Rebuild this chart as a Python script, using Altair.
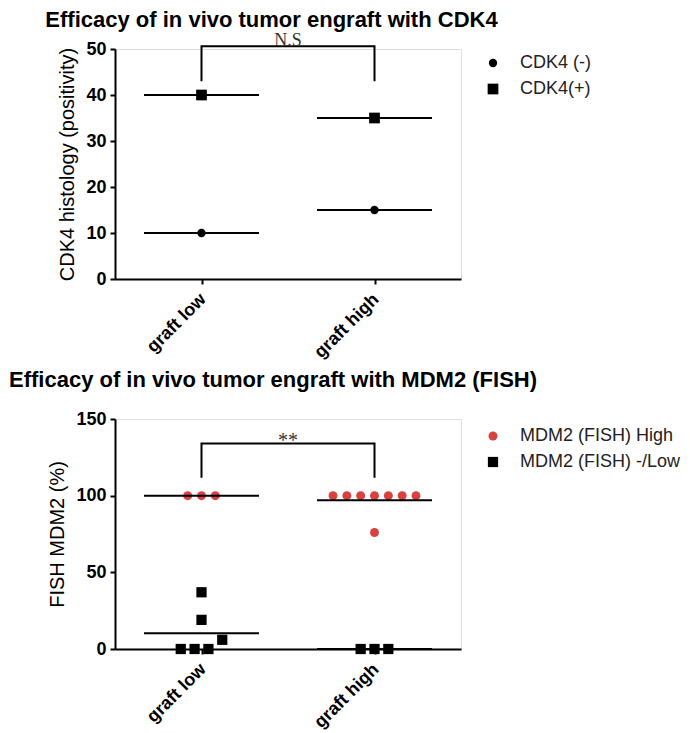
import altair as alt
import pandas as pd

groups = ["graft low", "graft high"]

# ---- Top panel: CDK4 histology ----
cdk4_series_names = ["CDK4 (-)", "CDK4(+)"]
cdk4_group = ["graft low", "graft low", "graft high", "graft high"]
cdk4_series = ["CDK4 (-)", "CDK4(+)", "CDK4 (-)", "CDK4(+)"]
cdk4_value = [10, 40, 15, 35]

cdk4_bracket_group = ["graft low", "graft low", "graft high", "graft high"]
cdk4_bracket_value = [43, 50.6, 50.6, 43]
cdk4_sig_label = ["N.S"]
cdk4_sig_value = [50.6]

# ---- Bottom panel: MDM2 FISH ----
mdm2_series_names = ["MDM2 (FISH) High", "MDM2 (FISH) -/Low"]
mdm2_group = (["graft low"] * 3 + ["graft high"] * 8 +
              ["graft low"] * 6 + ["graft high"] * 3)
mdm2_series = ["MDM2 (FISH) High"] * 11 + ["MDM2 (FISH) -/Low"] * 9
mdm2_value = [100, 100, 100,
              100, 100, 100, 100, 100, 100, 100, 76,
              0, 0, 0, 6, 19, 37,
              0, 0, 0]
mdm2_jitter_rank = [-1, 0, 1,
                    -3, -2, -1, 0, 1, 2, 3, 0,
                    -1.5, -0.5, 0.5, 1.5, 0, 0,
                    -1, 0, 1]

mdm2_bracket_group = ["graft low", "graft low", "graft high", "graft high"]
mdm2_bracket_value = [111.7, 134, 134, 111.7]
mdm2_sig_label = ["**"]
mdm2_sig_value = [131.8]

W, H = 346, 230
FONT = "Liberation Sans"


def xenc():
    return alt.X(
        "group:N",
        scale=alt.Scale(type="point", domain=groups, padding=0.5),
        axis=alt.Axis(
            title=None, labelAngle=-45, labelFontSize=18, labelFontWeight="bold",
            labelColor="black", labelFont=FONT, domainColor="black", domainWidth=2,
            tickColor="black", tickWidth=2, tickSize=5, labelPadding=6, labelOffset=-5,
        ),
    )


def yenc(field, domain, values, title, agg=None):
    f = f"{agg}({field}):Q" if agg else f"{field}:Q"
    return alt.Y(
        f,
        scale=alt.Scale(domain=domain, nice=False, zero=True),
        axis=alt.Axis(
            values=values, title=title, titleFontSize=20, titleFontWeight="normal",
            titleColor="black", titleFont=FONT, titlePadding=8,
            labelFontSize=18, labelFontWeight="bold", labelColor="black", labelFont=FONT,
            grid=False, domainColor="black", domainWidth=2, tickColor="black",
            tickWidth=2, tickSize=5, labelPadding=4,
        ),
    )


def legend(x, y):
    return alt.Legend(
        title=None, orient="none", legendX=x, legendY=y, labelFontSize=18,
        labelFont=FONT, labelColor="#222222", rowPadding=8, labelOffset=18,
        padding=0, symbolStrokeWidth=0, labelLimit=400,
    )


def panel(df, field, domain, values, ytitle, names, colors, shapes, sizes,
          br_df, sig_df, sig_size, leg_xy, title, title_dx, title_offset, jitter=False):
    leg = legend(*leg_xy)
    enc = dict(
        x=xenc(),
        y=yenc(field, domain, values, ytitle),
        shape=alt.Shape("series:N", scale=alt.Scale(domain=names, range=shapes), legend=leg),
        color=alt.Color("series:N", scale=alt.Scale(domain=names, range=colors), legend=leg),
        size=alt.Size("series:N", scale=alt.Scale(domain=names, range=sizes), legend=leg),
    )
    if jitter:
        enc["xOffset"] = alt.XOffset("rank:Q", scale=alt.Scale(domain=[-3, 3], range=[-41.5, 41.5]))
    points = alt.Chart(df).mark_point(filled=True, opacity=1, strokeWidth=0).encode(**enc)

    means = alt.Chart(df).mark_tick(color="black", thickness=2, size=115).encode(
        x=xenc(), y=yenc(field, domain, values, ytitle, agg="mean"), detail="series:N"
    )
    bracket = alt.Chart(br_df).mark_line(color="black", strokeWidth=2).encode(
        x=xenc(), y=yenc(field, domain, values, ytitle), order="ord:Q"
    )
    sig = alt.Chart(sig_df).mark_text(
        font="Liberation Serif", fontSize=sig_size, baseline="alphabetic", align="center",
        color="#333333"
    ).encode(x=alt.value(W / 2), y=yenc(field, domain, values, ytitle), text="label:N")

    return alt.layer(points, means, bracket, sig).properties(
        width=W, height=H,
        title=alt.Title(title, fontSize=22, fontWeight="bold", font=FONT, color="black",
                        anchor="middle", dx=title_dx, offset=title_offset),
    )


top_df = pd.DataFrame({"group": cdk4_group, "series": cdk4_series, "cdk4": cdk4_value})
top_br = pd.DataFrame({"group": cdk4_bracket_group, "cdk4": cdk4_bracket_value, "ord": [0, 1, 2, 3]})
top_sig = pd.DataFrame({"label": cdk4_sig_label, "cdk4": cdk4_sig_value})

bot_df = pd.DataFrame({"group": mdm2_group, "series": mdm2_series, "mdm2": mdm2_value,
                       "rank": mdm2_jitter_rank})
bot_br = pd.DataFrame({"group": mdm2_bracket_group, "mdm2": mdm2_bracket_value, "ord": [0, 1, 2, 3]})
bot_sig = pd.DataFrame({"label": mdm2_sig_label, "mdm2": mdm2_sig_value})

top = panel(top_df, "cdk4", [0, 50], [0, 10, 20, 30, 40, 50], "CDK4 histology (positivity)",
            cdk4_series_names, ["black", "black"], ["circle", "square"], [70, 115],
            top_br, top_sig, 18, (369, 5), "Efficacy of in vivo tumor engraft with CDK4", -16.5, 0)

bottom = panel(bot_df, "mdm2", [0, 150], [0, 50, 100, 150], "FISH MDM2 (%)",
               mdm2_series_names, ["#d94141", "black"], ["circle", "square"], [80, 105],
               bot_br, bot_sig, 20, (369, 8), "Efficacy of in vivo tumor engraft with MDM2 (FISH)", -15, 18,
               jitter=True)

chart = alt.vconcat(top, bottom, spacing=6).resolve_scale(
    y="independent", color="independent", shape="independent", size="independent"
).resolve_legend(color="independent", shape="independent", size="independent").properties(
    padding=0
).configure_view(stroke=None).configure(font=FONT, background="white")

chart.save("out.html", embed_options={"renderer": "svg", "actions": False})
